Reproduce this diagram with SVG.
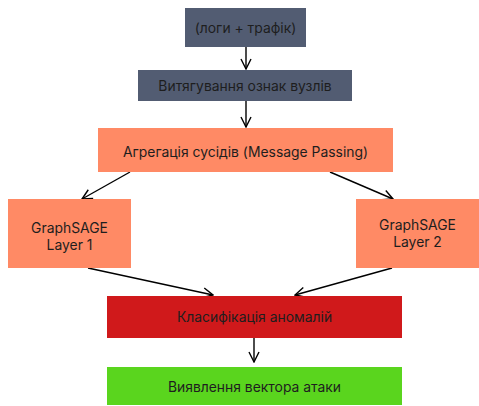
<svg xmlns="http://www.w3.org/2000/svg" width="479" height="406" viewBox="0 0 479 406">
<style>
text{font-family:Inter,"Noto Sans",sans-serif;font-size:13.9px;fill:#1e1e1e;text-anchor:middle;dominant-baseline:central}
.dark{fill:#525c72}
.sal{fill:#ff8a65}
.red{fill:#d0191b}
.grn{fill:#5ad51e}
.c{stroke:#000;stroke-width:1.4;fill:none;marker-end:url(#ah)}
</style>
<defs>
<marker id="ah" viewBox="0 0 12 12" refX="11" refY="6" markerWidth="12" markerHeight="12" markerUnits="userSpaceOnUse" orient="auto">
<path d="M1,1 L11,6 L1,11" fill="none" stroke="#000" stroke-width="1.4"/>
</marker>
</defs>
<rect width="479" height="406" fill="#fff"/>
<g id="connectors">
<line class="c" x1="246" y1="47" x2="246" y2="69"/>
<line class="c" x1="246" y1="101" x2="246" y2="127"/>
<line class="c" x1="130" y1="172" x2="82" y2="199"/>
<line class="c" x1="330" y1="172" x2="393" y2="199"/>
<line class="c" x1="88" y1="268" x2="213" y2="295"/>
<line class="c" x1="392" y1="268" x2="295" y2="295"/>
<line class="c" x1="254" y1="338" x2="254" y2="362"/>
</g>
<g id="n1"><rect class="dark" x="185" y="8" width="121" height="39"/><text x="245.5" y="27.5">(логи + трафік)</text></g>
<g id="n2"><rect class="dark" x="138" y="70" width="214" height="31"/><text x="245" y="85.5">Витягування ознак вузлів</text></g>
<g id="n3"><rect class="sal" x="98" y="128" width="295" height="44"/><text x="245.5" y="152">Агрегація сусідів (Message Passing)</text></g>
<g id="n4"><rect class="sal" x="8" y="199" width="123" height="69"/><text x="69.5" y="228">GraphSAGE</text><text x="69.5" y="245">Layer 1</text></g>
<g id="n5"><rect class="sal" x="356" y="199" width="123" height="69"/><text x="417.5" y="225">GraphSAGE</text><text x="417.5" y="242">Layer 2</text></g>
<g id="n6"><rect class="red" x="107" y="296" width="295" height="42"/><text x="254.5" y="317">Класифікація аномалій</text></g>
<g id="n7"><rect class="grn" x="107" y="367" width="295" height="38"/><text x="254.5" y="387">Виявлення вектора атаки</text></g>
</svg>
